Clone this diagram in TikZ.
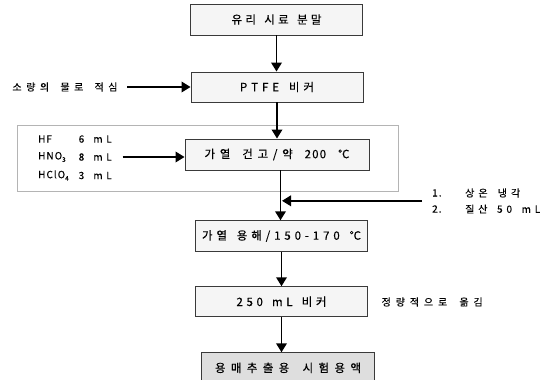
\documentclass[tikz,border=0pt]{standalone}
\usepackage{fontspec}
\setmainfont{Noto Sans CJK KR}[LetterSpace=10, FakeBold=0.3]
\usetikzlibrary{arrows.meta}
\newcommand\gi{\hspace{0pt plus 1fil}}
\newcommand\gw{\hspace{0pt plus 2.5fil}}
\newcommand\sx[2]{\hbox to #1{#2}}
\newcommand\subn[1]{\raisebox{-2.5pt}{\fontsize{6.5}{7}\selectfont #1}}
\definecolor{boxfill}{HTML}{F5F5F5}
\definecolor{endfill}{HTML}{DEDEDE}
\definecolor{edge}{HTML}{3A3A3A}
\definecolor{grp}{HTML}{B4B4B4}
\tikzset{
  stepbox/.style={draw=edge, line width=0.9pt, fill=boxfill, minimum width=172pt, minimum height=30pt, inner sep=0pt, font=\fontsize{11.5}{13}\selectfont},
  flow/.style={line width=1.9pt, -{Triangle[length=9pt,width=10.5pt]}},
  lbl/.style={inner sep=0pt, font=\fontsize{10}{12}\selectfont},
}
\begin{document}
\begin{tikzpicture}[x=1pt,y=-1pt]
\useasboundingbox (0,0) rectangle (544,380);
\draw[draw=grp, line width=0.8pt] (17.3,125) rectangle (398.3,191);
\node[stepbox, minimum height=31pt] (b1) at (276.5,19.5) {\sx{90pt}{유\gi{}리\gw{}시\gi{}료\gw{}분\gi{}말}};
\node[stepbox] (b2) at (277,87) {\sx{74pt}{P\gi{}T\gi{}F\gi{}E\gw{}비\gi{}커}};
\node[stepbox, minimum width=184pt, minimum height=31pt] (b3) at (277,154.5) {\sx{145pt}{가\gi{}열\gw{}건\gi{}고\gi{}/\gi{}약\gw{}200\gw{}℃}};
\node[stepbox, minimum height=30.5pt] (b4) at (281.5,236) {\sx{159pt}{가\gi{}열\gw{}용\gi{}해\gi{}/\gi{}1\gi{}5\gi{}0\gi{}-\gi{}1\gi{}7\gi{}0\gw{}℃}};
\node[stepbox] (b5) at (281.5,301.7) {\sx{90pt}{2\gi{}5\gi{}0\gw{}m\gi{}L\gw{}비\gi{}커}};
\node[stepbox, fill=endfill, minimum width=173pt, minimum height=31pt] (b6) at (288,367.8) {\sx{146pt}{용\gi{}매\gi{}추\gi{}출\gi{}용\gw{}시\gi{}험\gi{}용\gi{}액}};

\node[lbl] (wet) at (65,87) {\sx{105pt}{소\gi{}량\gi{}의\gw{}물\gi{}로\gw{}적\gi{}심}};
\node[lbl, anchor=west] (hf) at (38,139) {HF};
\node[lbl, anchor=west] (hfv) at (78.5,139) {\sx{33pt}{6\gw{}m\gi{}L}};
\node[lbl, anchor=west] (hno) at (38,157) {HNO\subn{3}};
\node[lbl, anchor=west] (hnov) at (78.5,157) {\sx{33pt}{8\gw{}m\gi{}L}};
\node[lbl, anchor=west] (hcl) at (38,175.5) {HClO\subn{4}};
\node[lbl, anchor=west] (hclv) at (78.5,175.5) {\sx{33pt}{3\gw{}m\gi{}L}};
\node[lbl, anchor=west] (n1) at (432,193) {1.};
\node[lbl, anchor=west] (t1) at (465,193) {\sx{55pt}{상\gi{}온\gw{}냉\gi{}각}};
\node[lbl, anchor=west] (n2) at (432,209) {2.};
\node[lbl, anchor=west] (t2) at (465,209) {\sx{75pt}{질\gi{}산\gw{}5\gi{}0\gw{}m\gi{}L}};
\node[lbl, anchor=west] (q) at (381.5,302) {\sx{101pt}{정\gi{}량\gi{}적\gi{}으\gi{}로\gw{}옮\gi{}김}};

\coordinate (wetend) at (127,87);
\coordinate (acidend) at (122.7,157);
\coordinate (coolstart) at (422,200.8);
\coordinate (j) at (282,200.8);
\coordinate (b3out) at (280.5,170);
\coordinate (b6in) at (281.5,352.3);

\draw[flow] (b1.south) -- (b1.south |- b2.north);
\draw[flow] (wetend) -- (b2.west);
\draw[flow] (b2.south) -- (b2.south |- b3.north);
\draw[flow] (acidend) -- (b3.west |- acidend);
\draw[flow] (b3out) -- (b3out |- b4.north);
\draw[flow] (coolstart) -- (j);
\draw[flow] (b4.south) -- (b5.north);
\draw[flow] (b5.south) -- (b6in);
\end{tikzpicture}
\end{document}
